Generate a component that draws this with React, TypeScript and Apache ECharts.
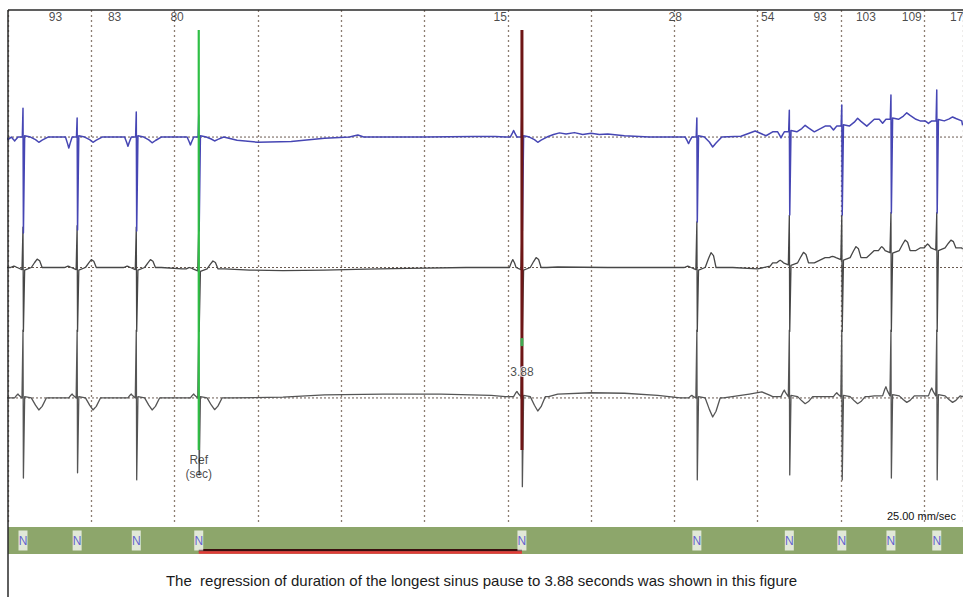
import React, { useEffect, useRef } from 'react';
import * as echarts from 'echarts';

// ---------- data (time in s, amplitude in display units) ----------
const beatTimes = [0.18, 0.83, 1.54, 2.29, 6.17, 8.27, 9.38, 10.01, 10.6, 11.15];
const beatTypes = ['N', 'N', 'N', 'N', 'N', 'N', 'N', 'N', 'N', 'N'];
const rateLabels = ['93', '83', '80', '15', '28', '54', '93', '103', '109', '17'];
const rateLabelTimes = [0.83, 1.54, 2.29, 6.17, 8.27, 9.38, 10.01, 10.6, 11.15, 11.65];
const refTime = 2.29;
const pauseEndTime = 6.17;
const pauseLabel = '3.88';
const speedLabel = '25.00 mm/sec';
const caption =
  'The  regression of duration of the longest sinus pause to 3.88 seconds was shown in this figure';
const channelOffsets = [10, 5, 0];

// channel 1 (blue)
const ch1Base = [0, 0, 0, 0, 0, 0, 0.2, 0.42, 0.68, 0.62];
const ch1Pre = [-0.15, -0.42, -0.35, -0.3, 0.25, -0.25, -0.23, -0.15, -0.15, -0.1];
const ch1R = [1.1, 0.73, 0.96, 0.85, 1.15, 0.73, 1.03, 1.23, 1.61, 1.8];
const ch1S = [-3.68, -3.56, -3.6, -3.6, -3.6, -3.26, -2.99, -2.99, -2.91, -2.91];
const ch1Post = [-0.2, -0.2, -0.22, -0.15, -0.2, -0.38, 0.25, 0.3, 0.25, 0.15];
const ch1Extra: [number, number][] = [
  [0, -0.1], [2.75, -0.12], [3.0, -0.2], [3.4, -0.17], [3.8, -0.05], [4.1, 0], [4.2, 0.08],
  [4.27, 0], [5.0, 0], [5.6, 0.02], [5.85, 0.02], [6.55, 0.1], [6.62, 0.16], [6.7, 0.12],
  [6.8, 0.17], [6.9, 0.1], [7.0, 0.15], [7.1, 0.1], [7.2, 0.12], [7.4, 0.05], [7.7, 0],
  [7.95, 0], [8.8, 0.03], [8.97, 0.23], [9.1, 0.05], [11.46, 0.45],
];

// channel 2 (dark grey)
const ch2Base = [0, 0, 0, -0.05, 0, 0, 0.18, 0.38, 0.65, 0.75];
const ch2Pre = [0.05, 0.05, 0.05, 0.05, 0.3, 0.05, 0.1, 0.05, 0.15, 0.15];
const ch2R = [1.55, 1.6, 1.55, 1.5, 1.34, 1.75, 2.0, 2.0, 2.1, 2.1];
const ch2S = [-2.45, -2.45, -2.45, -2.45, -2.45, -2.45, -2.45, -2.45, -2.45, -2.45];
const ch2Post = [0.32, 0.3, 0.3, 0.3, 0.38, 0.57, 0.4, 0.42, 0.4, 0.3];
const ch2Extra: [number, number][] = [
  [0, 0], [2.6, -0.05], [2.9, -0.1], [3.3, -0.12], [3.8, -0.1], [4.3, -0.06], [4.8, -0.03],
  [5.5, 0], [6.6, 0.02], [7.2, 0], [8.7, 0], [9.0, -0.05], [9.15, 0.05], [11.46, 0.7],
];

// channel 3 (grey)
const ch3Base = [0, 0, 0, 0, 0.05, 0, 0.05, 0.05, 0.08, 0.08];
const ch3Pre = [0.15, 0.15, 0.15, 0.15, 0.2, 0.1, 0.25, 0.15, 0.35, 0.3];
const ch3R = [2.6, 2.6, 2.6, 2.6, 2.6, 2.6, 2.6, 2.6, 2.6, 2.6];
const ch3S = [-3.07, -2.87, -3.14, -2.95, -3.4, -3.14, -2.95, -3.14, -3.07, -3.14];
const ch3Post = [-0.46, -0.46, -0.46, -0.45, -0.55, -0.73, -0.27, -0.27, -0.25, -0.25];
const ch3Extra: [number, number][] = [
  [0, 0], [2.7, 0], [3.3, 0.03], [3.8, 0.12], [4.5, 0.15], [5.2, 0.15], [5.8, 0.1],
  [6.6, 0.15], [7.0, 0.2], [7.4, 0.18], [7.8, 0.1], [8.9, 0.15], [9.05, 0.23], [9.15, 0.1],
  [11.46, 0.05],
];

// beat shapes: [time offset from R, kind, factor]  (b: baseline + factor, p/t: baseline + amp * factor)
type Tpl = [number, string, number][];
const ch1Tpl: Tpl = [
  [-0.2, 'b', 0], [-0.14, 'b', 0], [-0.115, 'p', 0.6], [-0.1, 'p', 1], [-0.085, 'p', 0.6],
  [-0.06, 'b', 0], [-0.008, 'b', 0], [0, 'r', 0], [0.005, 's', 0], [0.02, 'b', 0.05],
  [0.09, 'b', 0], [0.15, 't', 0.5], [0.19, 't', 1], [0.23, 't', 0.6], [0.3, 'b', 0],
];
const ch2Tpl: Tpl = [
  [-0.2, 'b', 0], [-0.15, 'b', 0], [-0.125, 'p', 0.7], [-0.11, 'p', 1], [-0.09, 'p', 0.6],
  [-0.07, 'b', 0], [-0.012, 'b', -0.08], [0, 'r', 0], [0.005, 's', 0], [0.02, 'b', -0.1],
  [0.1, 'b', 0], [0.14, 't', 0.6], [0.17, 't', 1], [0.2, 't', 0.8], [0.23, 'b', 0], [0.3, 'b', 0],
];
const ch3Tpl: Tpl = [
  [-0.2, 'b', 0], [-0.1, 'b', 0], [-0.075, 'p', 0.7], [-0.06, 'p', 1], [-0.045, 'p', 0.6],
  [-0.012, 'b', 0], [0, 'r', 0], [0.005, 's', 0], [0.02, 'b', 0.05], [0.1, 'b', 0],
  [0.15, 't', 0.6], [0.19, 't', 1], [0.23, 't', 0.7], [0.28, 'b', 0], [0.32, 'b', 0],
];

function buildTrace(
  offset: number, tpl: Tpl, base: number[], pre: number[], r: number[], s: number[],
  post: number[], extra: [number, number][]
) {
  const pts: number[][] = [];
  beatTimes.forEach((bt, i) => {
    tpl.forEach(([dt, k, f]) => {
      let v: number;
      if (k === 'r') v = r[i];
      else if (k === 's') v = s[i];
      else if (k === 'p') v = base[i] + pre[i] * f;
      else if (k === 't') v = base[i] + post[i] * f;
      else v = base[i] + f;
      pts.push([bt + dt, offset + v]);
    });
  });
  extra.forEach(([t, v]) => pts.push([t, offset + v]));
  pts.sort((a, b) => a[0] - b[0]);
  return pts;
}

const LABEL_FONT = "'Liberation Sans', Arial, sans-serif";
const X_MAX = 11.465;
const Y_MIN = -4.87;
const Y_MAX = 14.87;
const MARK_TOP = 14.1;
const MARK_BOTTOM = -2.0;

export default function App() {
  const ref = useRef<HTMLDivElement>(null);
  useEffect(() => {
    if (!ref.current) return;
    const chart = echarts.init(ref.current, undefined, { renderer: 'svg' });
    const ch1 = buildTrace(channelOffsets[0], ch1Tpl, ch1Base, ch1Pre, ch1R, ch1S, ch1Post, ch1Extra);
    const ch2 = buildTrace(channelOffsets[1], ch2Tpl, ch2Base, ch2Pre, ch2R, ch2S, ch2Post, ch2Extra);
    const ch3 = buildTrace(channelOffsets[2], ch3Tpl, ch3Base, ch3Pre, ch3R, ch3S, ch3Post, ch3Extra);

    const baseLine = (y: number) => ({
      type: 'line', xAxisIndex: 0, yAxisIndex: 0, data: [[0, y], [X_MAX, y]],
      symbol: 'none', silent: true, z: 1,
      lineStyle: { color: '#6a5a50', width: 1, type: [2, 2] },
    });
    const trace = (data: number[][], color: string, width: number, z: number) => ({
      type: 'line', xAxisIndex: 0, yAxisIndex: 0, data, symbol: 'none', silent: true, z,
      lineStyle: { color, width, join: 'round' },
    });

    chart.setOption({
      animation: false,
      backgroundColor: '#ffffff',
      title: {
        text: caption, left: 'center', top: 568,
        textStyle: { fontSize: 15, fontWeight: 'normal', color: '#1a1a1a', fontFamily: LABEL_FONT },
      },
      grid: [
        { left: 8, right: 0, top: 10, height: 515, show: false },
        { left: 8, right: 0, top: 527, height: 27, show: true, backgroundColor: '#8da66b', borderWidth: 0 },
      ],
      xAxis: [
        {
          type: 'value', gridIndex: 0, min: 0, max: X_MAX, interval: 1,
          axisLine: { show: false }, axisTick: { show: false }, axisLabel: { show: false },
          splitLine: { show: true, lineStyle: { color: '#8c7d72', width: 1.3, type: [2, 3] } },
        },
        {
          type: 'value', gridIndex: 1, min: 0, max: X_MAX, show: false,
          splitLine: { show: false },
        },
      ],
      yAxis: [
        { type: 'value', gridIndex: 0, min: Y_MIN, max: Y_MAX, show: false, splitLine: { show: false } },
        { type: 'value', gridIndex: 1, min: 0, max: 1, show: false, splitLine: { show: false } },
      ],
      graphic: [
        { type: 'line', shape: { x1: 8, y1: 10, x2: 963, y2: 10 }, style: { stroke: '#2a2a2a', lineWidth: 1.5 }, z: 100 },
        { type: 'line', shape: { x1: 8, y1: 10, x2: 8, y2: 597 }, style: { stroke: '#2a2a2a', lineWidth: 1.5 }, z: 100 },
        {
          type: 'text', x: 956, y: 516, z: 100,
          style: { text: speedLabel, fill: '#111', fontSize: 11, fontFamily: LABEL_FONT, align: 'right', verticalAlign: 'middle' },
        },
      ],
      series: [
        baseLine(channelOffsets[0]),
        baseLine(channelOffsets[1]),
        baseLine(channelOffsets[2]),
        trace(ch3, '#555555', 1.3, 3),
        trace(ch2, '#474747', 1.3, 4),
        trace(ch1, '#4646b4', 1.5, 5),
        {
          type: 'line', xAxisIndex: 0, yAxisIndex: 0, symbol: 'none', silent: true, z: 8,
          data: [[refTime, MARK_TOP], [refTime, MARK_BOTTOM]],
          lineStyle: { color: '#2fbf45', width: 2.2 },
        },
        {
          type: 'line', xAxisIndex: 0, yAxisIndex: 0, symbol: 'none', silent: true, z: 8,
          data: [[pauseEndTime, MARK_TOP], [pauseEndTime, MARK_BOTTOM]],
          lineStyle: { color: '#6e1616', width: 3 },
        },
        {
          type: 'scatter', xAxisIndex: 0, yAxisIndex: 0, silent: true, z: 9,
          symbol: 'rect', symbolSize: [3, 8], itemStyle: { color: '#35d060' },
          data: [[pauseEndTime, 2.14]],
        },
        {
          type: 'scatter', xAxisIndex: 0, yAxisIndex: 0, silent: true, z: 10, symbolSize: 0,
          data: [[pauseEndTime, 1.0]],
          label: {
            show: true, position: 'inside', formatter: pauseLabel, color: '#1a1a1a', fontSize: 12,
            fontFamily: LABEL_FONT, textBorderColor: '#ffffff', textBorderWidth: 2,
          },
        },
        {
          type: 'scatter', xAxisIndex: 0, yAxisIndex: 0, silent: true, z: 10, symbolSize: 0,
          data: [[refTime, MARK_BOTTOM]],
          label: {
            show: true, position: 'bottom', distance: 3, formatter: 'Ref\n(sec)', color: '#1a1a1a',
            fontSize: 12, lineHeight: 14, fontFamily: LABEL_FONT, align: 'center',
          },
        },
        {
          type: 'scatter', xAxisIndex: 0, yAxisIndex: 0, silent: true, z: 10, symbolSize: 0,
          clip: false,
          data: rateLabelTimes.map((t) => [t, 14.6]),
          label: {
            show: true, position: 'left', distance: 15, color: '#1a1a1a', fontSize: 12, fontFamily: LABEL_FONT,
            formatter: (p: any) => rateLabels[p.dataIndex],
          },
        },
        {
          type: 'line', xAxisIndex: 1, yAxisIndex: 1, symbol: 'none', silent: true, z: 6,
          data: [[refTime, 0.14], [pauseEndTime, 0.14]],
          lineStyle: { color: '#3a1010', width: 2.5 },
        },
        {
          type: 'line', xAxisIndex: 1, yAxisIndex: 1, symbol: 'none', silent: true, z: 7,
          data: [[refTime, 0.06], [pauseEndTime, 0.06]],
          lineStyle: { color: '#e43a3a', width: 2.5 },
        },
        {
          type: 'scatter', xAxisIndex: 1, yAxisIndex: 1, silent: true, z: 8,
          symbol: 'rect', symbolSize: [9, 20],
          itemStyle: { color: 'rgba(255,255,255,0.92)' },
          data: beatTimes.map((t) => [t, 0.5]),
          label: {
            show: true, position: 'inside', color: '#4040cc', fontSize: 12, fontFamily: LABEL_FONT,
            formatter: (p: any) => beatTypes[p.dataIndex],
          },
        },
      ],
    });
    return () => chart.dispose();
  }, []);
  return <div ref={ref} style={{ position: 'absolute', left: 0, top: 0, width: 963, height: 597 }} />;
}
